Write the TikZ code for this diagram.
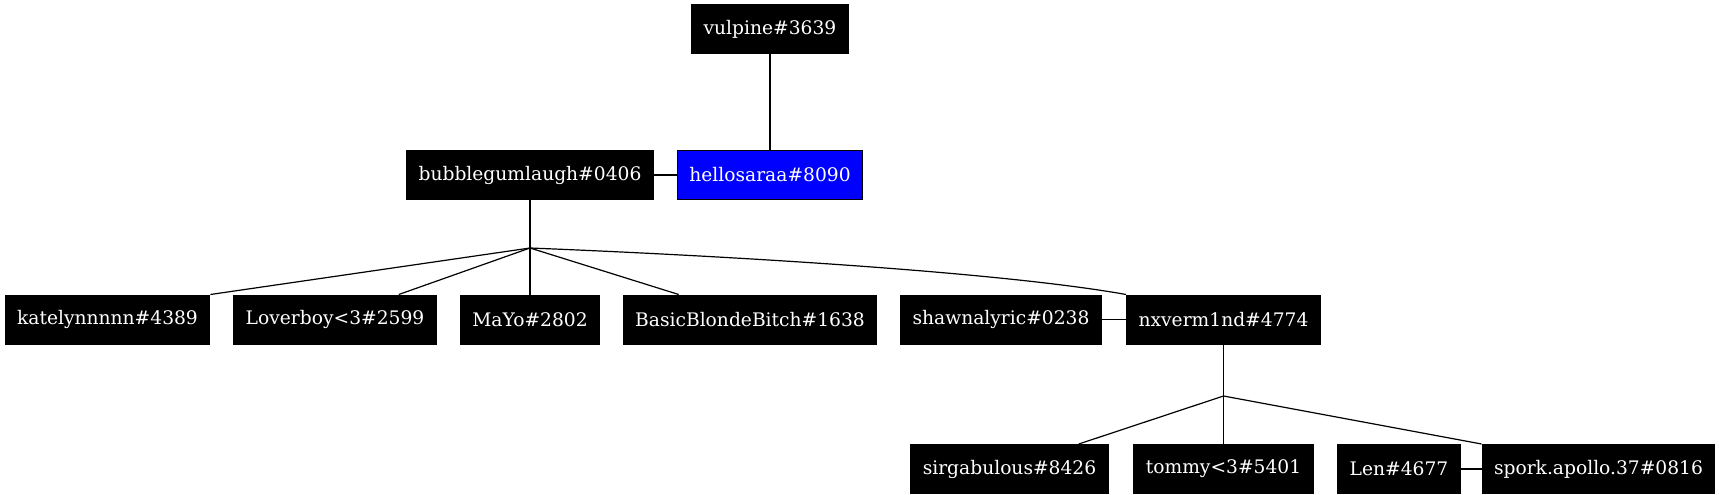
\documentclass[tikz,border=0pt]{standalone}
\usepackage{fontspec}
\setmainfont{DejaVu Serif}
\tikzset{
  user/.style={draw=black,fill=black,text=white,rectangle,line width=.75pt,
    inner xsep=9pt,inner ysep=0pt,minimum height=36.75pt,
    font=\fontsize{14}{16}\selectfont},
  me/.style={user,fill=blue},
  link/.style={line width=.9pt}
}
\begin{document}
\begin{tikzpicture}[x=.75pt,y=-.75pt]
    \useasboundingbox (0,0) rectangle (1719,495);
    % top
    \node[user] (vulpine) at (770,29) {vulpine\#3639};
    \node[user] (bubble) at (530,175) {bubblegumlaugh\#0406};
    \node[me] (hello) at (770,175) {hellosaraa\#8090};
    \coordinate (j1) at (770,102);
    \coordinate (j2) at (530,248);
    % second row
    \node[user] (katelyn) at (107.5,319.5) {katelynnnnn\#4389};
    \node[user] (loverboy) at (335,319.5) {Loverboy<3\#2599};
    \node[user] (mayo) at (530,319.5) {MaYo\#2802};
    \node[user] (basic) at (750,319.5) {BasicBlondeBitch\#1638};
    \node[user] (shawna) at (1001,319.5) {shawnalyric\#0238};
    \node[user] (nxverm) at (1223.5,319.5) {nxverm1nd\#4774};
    \coordinate (j3) at (1223.5,396);
    % third row
    \node[user] (sirgab) at (1009.5,469) {sirgabulous\#8426};
    \node[user] (tommy) at (1223.5,469) {tommy<3\#5401};
    \node[user] (len) at (1399,469) {Len\#4677};
    \node[user] (spork) at (1598.5,469) {spork.apollo.37\#0816};

    \draw[link] (vulpine) -- (j1) -- (hello);
    \fill (j1) circle(1);
    \draw[link] (bubble) -- (hello);
    \draw[link] (bubble) -- (j2);
    \draw[link] (j2) -- (katelyn.north east);
    \draw[link] (j2) -- ([xshift=-28.5pt]loverboy.north east);
    \draw[link] (j2) -- (mayo);
    \draw[link] (j2) -- ([xshift=42pt]basic.north west);
    \draw[link] (j2) .. controls (730,256) and (1000,272) .. (nxverm.north west);
    \draw[link] (shawna) -- (nxverm);
    \draw[link] (nxverm) -- (j3);
    \draw[link] (j3) -- ([xshift=-22.5pt]sirgab.north east);
    \draw[link] (j3) -- (tommy);
    \draw[link] (j3) -- (spork.north west);
    \draw[link] (len) -- (spork);
\end{tikzpicture}
\end{document}
